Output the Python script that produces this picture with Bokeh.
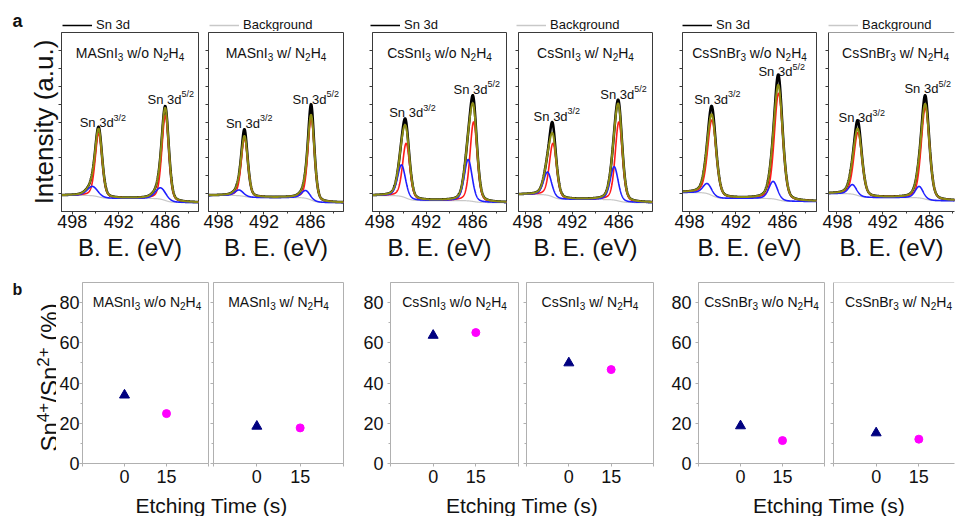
import numpy as np
from bokeh.plotting import figure
from bokeh.layouts import row, column
from bokeh.models import Range1d, FixedTicker, Label, Legend, LegendItem, Span
from bokeh.embed import file_html
from bokeh.resources import INLINE

FONT = "Liberation Sans"
TXT = "#111111"
EDGE_A = "#3a3a3a"
EDGE_B = "#b0b0b0"

# ---------------- data: (a) Sn 3d XPS ----------------
PANEL_TITLES = [
    [("MASnI", 0), ("3", -1), (" w/o N", 0), ("2", -1), ("H", 0), ("4", -1)],
    [("MASnI", 0), ("3", -1), (" w/ N", 0), ("2", -1), ("H", 0), ("4", -1)],
    [("CsSnI", 0), ("3", -1), (" w/o N", 0), ("2", -1), ("H", 0), ("4", -1)],
    [("CsSnI", 0), ("3", -1), (" w/ N", 0), ("2", -1), ("H", 0), ("4", -1)],
    [("CsSnBr", 0), ("3", -1), (" w/o N", 0), ("2", -1), ("H", 0), ("4", -1)],
    [("CsSnBr", 0), ("3", -1), (" w/ N", 0), ("2", -1), ("H", 0), ("4", -1)],
]
BE_TICKS = [498, 492, 486]
BE_MINOR = [495, 489, 483]
INT_TICKS = [10, 20, 30, 40, 50, 60, 70, 80, 90]
LEGEND_LABELS = ["Sn 3d", "Background"]
PEAK_LABEL_32 = [("Sn 3d", 0), ("3/2", 1)]
PEAK_LABEL_52 = [("Sn 3d", 0), ("5/2", 1)]

# Shirley background levels (high-BE side, between peaks, low-BE side)
bg_left = [9.0, 9.0, 8.9, 9.5, 10.6, 10.0]
bg_mid = [7.3, 7.8, 6.1, 6.7, 7.3, 7.8]
bg_right = [5.0, 5.0, 5.0, 5.0, 5.6, 6.0]
# Sn2+ component (red)
red_32_pos = [494.6, 494.5, 494.6, 494.5, 495.1, 495.2]
red_32_top = [43.6, 40.7, 38.0, 38.0, 51.0, 44.0]
red_52_pos = [486.0, 485.9, 485.9, 486.0, 486.5, 486.5]
red_52_top = [53.6, 52.0, 50.0, 50.0, 66.0, 58.0]
red_fwhm = [1.05, 1.0, 1.1, 1.1, 1.3, 1.25]
# Sn4+ component (blue)
blue_32_pos = [495.4, 495.2, 495.2, 495.2, 495.7, 495.9]
blue_32_top = [14.0, 12.0, 26.0, 22.0, 15.6, 15.0]
blue_52_pos = [486.6, 486.6, 486.6, 486.6, 487.2, 487.3]
blue_52_top = [13.2, 11.7, 29.0, 25.0, 16.8, 14.0]
blue_fwhm = [1.6, 1.3, 1.2, 1.2, 1.3, 1.2]
# measured maxima of the Sn 3d spectrum (black)
data_32_max = [46.4, 46.0, 52.0, 50.0, 59.0, 51.0]
data_52_max = [58.7, 60.0, 65.0, 62.5, 76.5, 65.0]
# peak annotation anchors (left of text, baseline)
lab32_x = [497.06, 496.9, 496.8, 497.0, 497.4, 497.7]
lab32_y = [49.7, 49.2, 55.3, 53.1, 62.6, 52.5]
lab52_x = [488.3, 488.3, 488.5, 488.4, 489.1, 489.2]
lab52_y = [62.6, 62.6, 68.2, 65.4, 78.2, 68.7]

# ---------------- data: (b) Sn4+/Sn2+ ratio ----------------
etch_time = [0, 15]
ratio_0s = [34.0, 18.5, 63.7, 50.0, 18.7, 15.2]
ratio_15s = [24.8, 17.7, 65.1, 46.7, 11.4, 12.1]
RATIO_TICKS = [0, 20, 40, 60, 80]
RATIO_MINOR = [10, 30, 50, 70]
TIME_TICKS = [-15, 0, 15, 30]
YLABEL_B = [("Sn", 0), ("4+", 1), ("/Sn", 0), ("2+", 1), (" (%)", 0)]
XLABEL_B = "Etching Time (s)"

# ---------------- layout (pixels) ----------------
A_LB = [61, 5, 15, 6, 15, 6]
A_FW = [137, 135, 134, 134, 134, 126]
A_RB = [5, 14, 6, 15, 6, 1]
A_XSTART = [499.4, 499.15, 498.95, 498.95, 498.9, 499.0]
A_TCX = [68.5, 67.5, 67, 67, 67, 67]
A_LEGX = [62, 209, 370, 516, 682, 828]
PX_PER_EV = 7.75
B_LB = [23, 3, 44, 4, 42, 5]
B_FW = [129, 130, 128, 127, 126, 121]
B_RB = [2, 3, 4, 3, 4, 1]
B_TCX = [64.5, 65, 64, 63.5, 63, 65]
TOTAL_W = 955

ARIAL = {'M': .833, 'A': .667, 'S': .667, 'n': .556, 'I': .278, 'C': .722, 's': .5,
         'B': .667, 'r': .333, ' ': .278, 'w': .722, '/': .278, 'o': .556, 'N': .722,
         'H': .722, 'd': .556, '+': .584, '(': .333, ')': .333, '%': .889, '.': .278}


def text_w(s, size):
    return sum(ARIAL.get(ch, 0.556) for ch in s) * size


def rich(p, pieces, x, y, size, small, shift, center=False, angle=0.0, units="screen"):
    total = sum(text_w(t, small if k else size) for t, k in pieces)
    adv = -total / 2 if center else 0.0
    for t, k in pieces:
        fs = small if k else size
        lead = len(t) - len(t.lstrip(" "))
        adv += text_w(" " * lead, fs)
        t2 = t.lstrip(" ")
        if angle == 0:
            ox, oy = adv, k * shift
        else:
            ox, oy = -k * shift, adv
        p.add_layout(Label(x=x, y=y, x_units=units, y_units=units, x_offset=ox, y_offset=oy,
                           text=t2, angle=angle, text_font=FONT, text_font_size=f"{fs}px",
                           text_align="left", text_baseline="alphabetic", text_color=TXT))
        adv += text_w(t2, fs)


def hide_labels(ax, ticks):
    ax.major_label_overrides = {t: "" for t in ticks}
    ax.major_label_text_color = None
    ax.major_label_standoff = 0


def blank(width, height, **kw):
    p = figure(width=width, height=height, x_range=Range1d(0, 1), y_range=Range1d(0, 1),
               output_backend="svg", toolbar_location=None, x_axis_type=None,
               y_axis_type=None, outline_line_color=None, title=None, **kw)
    p.grid.visible = False
    return p


def pv(x, c, w, eta=0.3):
    d = (x - c) / w
    return (1 - eta) * np.exp(-4 * np.log(2) * d * d) + eta / (1 + 4 * d * d)


def background(x, i):
    s = 0.4
    st2 = 1 / (1 + np.exp(-(x - red_52_pos[i]) / s))
    st1 = 1 / (1 + np.exp(-(x - red_32_pos[i]) / s))
    return bg_right[i] + (bg_mid[i] - bg_right[i]) * st2 + (bg_left[i] - bg_mid[i]) * st1


# ---------------- header: legends + "a" ----------------
head = blank(TOTAL_W, 31, min_border=0)
r_data = head.line([-1, -0.5], [-1, -1], line_color="black", line_width=1.5)
r_bg = head.line([-1, -0.5], [-1, -1], line_color="#c8c8c8", line_width=1.5)
for i in range(6):
    rr = r_data if i % 2 == 0 else r_bg
    head.add_layout(Legend(items=[LegendItem(label=LEGEND_LABELS[i % 2], renderers=[rr])],
                           location=(A_LEGX[i], -1), padding=0, margin=0, spacing=0,
                           glyph_width=30, glyph_height=14, label_height=14, label_standoff=4,
                           border_line_color=None, background_fill_alpha=0,
                           label_text_font=FONT, label_text_font_size="13px",
                           label_text_color=TXT))
head.add_layout(Label(x=12, y=1, x_units="screen", y_units="screen", text="a",
                      text_font=FONT, text_font_size="18px", text_font_style="bold",
                      text_color=TXT))


def make_top(i):
    fw = A_FW[i]
    x0 = A_XSTART[i]
    x1 = x0 - fw / PX_PER_EV
    p = figure(width=A_LB[i] + fw + A_RB[i], height=233, x_range=Range1d(x0, x1),
               y_range=Range1d(0, 100), output_backend="svg", toolbar_location=None,
               title=None, min_border_left=A_LB[i], min_border_right=A_RB[i],
               min_border_top=1, min_border_bottom=53)
    p.grid.visible = False
    p.outline_line_color = EDGE_A if i < 5 else None
    p.outline_line_width = 1

    be = np.linspace(499.8, 480.5, 900)
    bg = background(be, i)
    b0 = lambda c: float(background(np.array([c]), i)[0])
    red = (red_32_top[i] - b0(red_32_pos[i])) * pv(be, red_32_pos[i], red_fwhm[i]) + \
          (red_52_top[i] - b0(red_52_pos[i])) * pv(be, red_52_pos[i], red_fwhm[i])
    blue = (blue_32_top[i] - b0(blue_32_pos[i])) * pv(be, blue_32_pos[i], blue_fwhm[i]) + \
           (blue_52_top[i] - b0(blue_52_pos[i])) * pv(be, blue_52_pos[i], blue_fwhm[i])
    fit = bg + red + blue
    raw = fit.copy()
    for c, m in ((red_32_pos[i], data_32_max[i]), (red_52_pos[i], data_52_max[i])):
        mask = np.abs(be - c) < 1.5
        k = np.argmax(np.where(mask, fit, -1))
        extra = max(m - fit[k], 1.0)
        raw = raw + extra * pv(be, be[k], red_fwhm[i] * 0.55, eta=0.0)

    p.line(be, bg, line_color="#c8c8c8", line_width=1.2)
    p.line(be, raw, line_color="black", line_width=2.6)
    p.line(be, bg + red, line_color="#ff1a1a", line_width=1.6)
    p.line(be, bg + blue, line_color="#1f1fff", line_width=1.6)
    p.line(be, fit, line_color="#8c8c14", line_width=2.0)

    xa = p.xaxis[0]
    xa.ticker = FixedTicker(ticks=BE_TICKS, minor_ticks=BE_MINOR)
    xa.axis_label = "B. E. (eV)"
    xa.axis_label_text_font = FONT
    xa.axis_label_text_font_size = "24px"
    xa.axis_label_text_font_style = "normal"
    xa.axis_label_text_color = TXT
    xa.axis_label_standoff = 3
    xa.major_label_text_font = FONT
    xa.major_label_text_font_size = "18px"
    xa.major_label_text_color = TXT
    xa.major_label_standoff = 0
    for ax in (xa, p.yaxis[0]):
        ax.axis_line_color = EDGE_A
        ax.major_tick_line_color = EDGE_A
        ax.minor_tick_line_color = EDGE_A
        ax.major_tick_in = 0
        ax.major_tick_out = 3
        ax.minor_tick_in = 0
        ax.minor_tick_out = 2
    ya = p.yaxis[0]
    ya.ticker = FixedTicker(ticks=INT_TICKS, minor_ticks=[])
    hide_labels(ya, INT_TICKS)
    if i == 0:
        ya.axis_label = "Intensity (a.u.)"
        ya.axis_label_text_font = FONT
        ya.axis_label_text_font_size = "26px"
        ya.axis_label_text_font_style = "normal"
        ya.axis_label_text_color = TXT
        ya.axis_label_standoff = 0
    if i == 5:
        p.add_layout(Span(location=100, dimension="width", line_color=EDGE_A, line_width=1))

    rich(p, PANEL_TITLES[i], A_TCX[i], 159, 14, 10, 4, center=True)
    rich(p, PEAK_LABEL_32, lab32_x[i], lab32_y[i], 13, 9, 5, units="data")
    rich(p, PEAK_LABEL_52, lab52_x[i], lab52_y[i], 13, 9, 5, units="data")
    return p


# ---------------- left label column for (b) ----------------
ylab = blank(56, 227, min_border_left=0, min_border_right=0, min_border_top=18,
             min_border_bottom=28)
rich(ylab, YLABEL_B, 49, 12, 24, 17, 7, angle=np.pi / 2)
ylab.add_layout(Label(x=12, y=166, x_units="screen", y_units="screen", text="b",
                      text_font=FONT, text_font_size="16px", text_font_style="bold",
                      text_color=TXT))


def make_bottom(i):
    fw = B_FW[i]
    x1 = 30 if i < 5 else -15 + fw * 45 / 128
    p = figure(width=B_LB[i] + fw + B_RB[i], height=227, x_range=Range1d(-15, x1),
               y_range=Range1d(0, 90), output_backend="svg", toolbar_location=None,
               title=None, min_border_left=B_LB[i], min_border_right=B_RB[i],
               min_border_top=18, min_border_bottom=28)
    p.grid.visible = False
    p.outline_line_color = EDGE_B if i < 5 else None
    p.scatter(x=[etch_time[0]], y=[ratio_0s[i]], marker="triangle", size=10,
              fill_color="#000080", line_color="#000080")
    p.scatter(x=[etch_time[1]], y=[ratio_15s[i]], marker="circle", size=8,
              fill_color="#ff00ff", line_color="#ff00ff")
    xa = p.xaxis[0]
    ya = p.yaxis[0]
    xa.ticker = FixedTicker(ticks=TIME_TICKS, minor_ticks=[])
    xa.major_label_overrides = {-15: "", 30: ""}
    ya.ticker = FixedTicker(ticks=RATIO_TICKS, minor_ticks=RATIO_MINOR)
    for ax in (xa, ya):
        ax.axis_line_color = EDGE_B
        ax.major_tick_line_color = EDGE_B
        ax.minor_tick_line_color = EDGE_B
        ax.major_tick_in = 0
        ax.major_tick_out = 3
        ax.minor_tick_in = 0
        ax.minor_tick_out = 2
        ax.major_label_text_font = FONT
        ax.major_label_text_font_size = "18px"
        ax.major_label_text_color = TXT
    xa.major_label_standoff = 3
    ya.major_label_standoff = 0 if i == 0 else 4
    if i % 2 == 1:
        hide_labels(ya, RATIO_TICKS)
    if i == 5:
        p.add_layout(Span(location=90, dimension="width", line_color=EDGE_B, line_width=1))
    rich(p, PANEL_TITLES[i], B_TCX[i], 162, 14, 10, 4, center=True)
    return p


tops = [make_top(i) for i in range(6)]
bottoms = [make_bottom(i) for i in range(6)]

foot = blank(TOTAL_W, 25, min_border=0)
for cx in (211, 521.5, 828.5):
    foot.add_layout(Label(x=cx, y=11, x_units="screen", y_units="screen", text=XLABEL_B,
                          text_font=FONT, text_font_size="21px", text_align="center",
                          text_baseline="alphabetic", text_color=TXT))

layout = column(head, row(*tops), row(ylab, *bottoms), foot)
open("out.html", "w").write(file_html(layout, INLINE))
